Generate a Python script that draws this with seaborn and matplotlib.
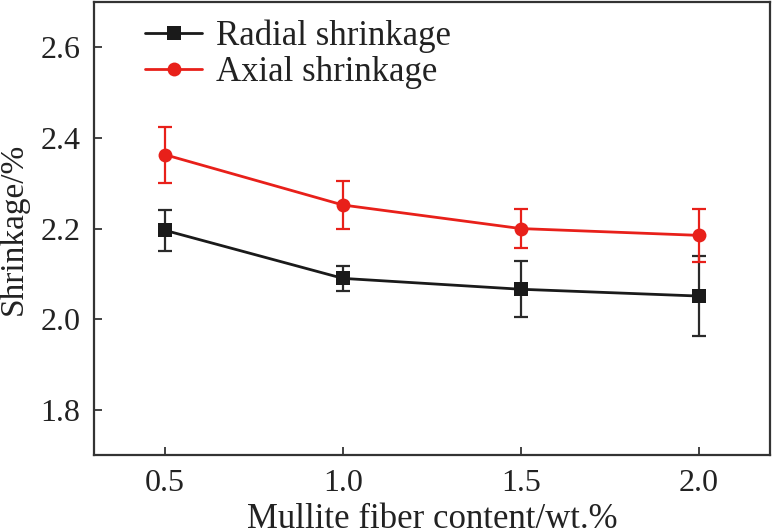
import numpy as np
import pandas as pd
import matplotlib
matplotlib.use('Agg')
import matplotlib.pyplot as plt
import seaborn as sns

fiber = [0.5, 1.0, 1.5, 2.0]
radial = [2.196, 2.090, 2.066, 2.051]
radial_err = [0.045, 0.028, 0.062, 0.088]
axial = [2.363, 2.252, 2.200, 2.185]
axial_err = [0.062, 0.052, 0.044, 0.058]

sns.set_style('ticks')
plt.rcParams['font.family'] = ['Liberation Serif', 'DejaVu Serif']
plt.rcParams['xtick.direction'] = 'in'
plt.rcParams['ytick.direction'] = 'in'

df = pd.DataFrame({
    'fiber': fiber * 2,
    'shrink': radial + axial,
    'kind': ['Radial shrinkage'] * 4 + ['Axial shrinkage'] * 4,
})

colors = {'Radial shrinkage': '#1a1a1a', 'Axial shrinkage': '#e8201a'}

fig = plt.figure(figsize=(7.72, 5.30), dpi=100)
ax = fig.add_axes([0.1218, 0.1415, 0.997 - 0.1218, 0.996 - 0.1415])

# error bars first, then the lines on top
ax.errorbar(fiber, radial, yerr=radial_err, fmt='none', ecolor='#2a2a2a',
            elinewidth=1.6, capsize=5, capthick=1.6)
ax.errorbar(fiber, axial, yerr=axial_err, fmt='none', ecolor=colors['Axial shrinkage'],
            elinewidth=1.6, capsize=5, capthick=1.6)
sns.lineplot(data=df, x='fiber', y='shrink', hue='kind', style='kind',
             markers={'Radial shrinkage': 's', 'Axial shrinkage': 'o'}, dashes=False,
             palette=colors, markersize=10, markeredgewidth=0, linewidth=2, ax=ax)

ax.set_xlim(0.3, 2.2)
ax.set_ylim(1.7, 2.7)
ax.set_xticks([0.5, 1.0, 1.5, 2.0])
ax.set_yticks([1.8, 2.0, 2.2, 2.4, 2.6])
ax.set_xticklabels(['0.5', '1.0', '1.5', '2.0'])
ax.set_yticklabels(['1.8', '2.0', '2.2', '2.4', '2.6'])
ax.tick_params(axis='both', labelsize=23, length=6, width=1.2, pad=10,
               top=False, right=False, colors='#222222')
ax.set_xlabel('Mullite fiber content/wt.%', fontsize=25, color='#222222', labelpad=4)
ax.set_ylabel('Shrinkage/%', fontsize=24, color='#222222', labelpad=8)
for s in ax.spines.values():
    s.set_linewidth(1.6)
    s.set_color('#333333')

leg = ax.legend(title=None, loc='upper left', frameon=False, fontsize=25,
                handlelength=1.65, handletextpad=0.4, labelspacing=0.1,
                borderaxespad=0.1, bbox_to_anchor=(0.05, 1.0))
for t in leg.get_texts():
    t.set_color('#222222')

fig.savefig('out.png', dpi=100)
